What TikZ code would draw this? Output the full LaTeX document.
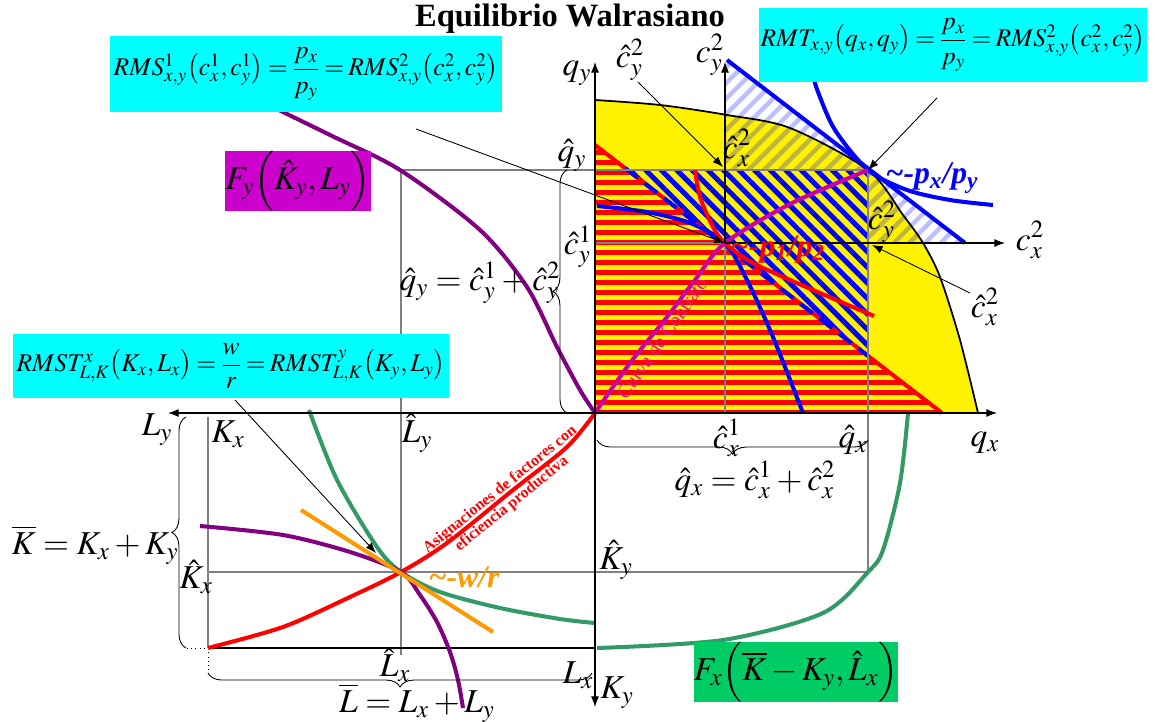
\documentclass[tikz,border=0pt]{standalone}
\usepackage{amsmath}
\usepackage{mathptmx}
\usepackage[no-math]{fontspec}
\setmainfont{Liberation Serif}
\usetikzlibrary{positioning,arrows.meta,patterns.meta,decorations.pathreplacing}
\definecolor{boxcyan}{HTML}{00FFFF}
\definecolor{boxmagenta}{HTML}{CC00CC}
\definecolor{boxgreen}{HTML}{00CC66}
\definecolor{softpurple}{HTML}{800080}
\definecolor{softgreen}{HTML}{339966}
\definecolor{softorange}{HTML}{FF9900}
\definecolor{contract}{HTML}{CC00A0}
\definecolor{contracttext}{HTML}{E0108A}
\definecolor{guidegray}{HTML}{808080}
\newcommand{\tightmath}{\thickmuskip=3mu\relax\medmuskip=2mu\relax}

\begin{document}
\begin{tikzpicture}[x=0.02cm,y=-0.02cm,
  lbl/.style={inner sep=0pt,font=\fontsize{19}{22}\selectfont},
  formula/.style={inner sep=0pt,font=\fontsize{14.5}{17}\selectfont\tightmath},
  guide/.style={guidegray,line width=0.7pt},
  heavy/.style={line width=2.3pt},
  axisarrow/.style={line width=0.6pt,-{Latex[length=6pt,width=4.5pt]}},
  pointer/.style={line width=0.5pt,-{Latex[length=6pt,width=4.5pt]}},
  brc/.style={decorate,decoration={brace,amplitude=8pt},line width=0.5pt},
  slope/.style={inner sep=0pt,font=\fontsize{18}{20}\selectfont\bfseries\itshape}]
\useasboundingbox (0,0) rectangle (1155,722);

\coordinate (O) at (595,413);
\coordinate (E1) at (725,243);
\coordinate (E2) at (868,170);
\coordinate (EK) at (401,572);

% areas
\fill[yellow] (O) -- plot[smooth] coordinates {(595,100) (660,105) (727,115) (790,128) (868,170) (903,215) (923,243) (940,277) (960,340) (978,413)} -- cycle;
\begin{scope}
\clip (725,60) -- (965,243) -- (725,243) -- cycle;
\foreach \k in {0,...,28}
  \draw[blue,line width=0.09cm,draw opacity=0.25] ({535+15.6*\k},243) -- ({725+15.6*\k},53);
\end{scope}
\fill[yellow] (595,170) rectangle (868,413);
\path[pattern={Lines[angle=-45,distance=0.22cm,line width=0.1cm]},pattern color=blue] (595,170) rectangle (868,413);
\fill[yellow] (595,145) -- (942,413) -- (O) -- cycle;
\path[pattern={Lines[angle=0,distance=0.2cm,line width=0.1cm]},pattern color=red] (595,145) -- (942,413) -- (O) -- cycle;
\draw[red,heavy] (595,145) -- (942,413);
\draw[blue,heavy,dash pattern=on 9pt off 5pt] (625,168) -- (868,356);

% guides
\draw[guide] (401,170) -- (E2) -- (868,572) -- (208,572);
\draw[guide] (401,170) -- (401,655);
\draw[guide] (208,417) -- (208,648);
\draw[guide] (595,243) -- (E1) -- (725,413);
\draw[line width=0.6pt] (208,648) -- (595,648);
\draw[dotted,line width=0.4pt] (187,648) -- (208,648) -- (208,673);

\draw[line width=1pt] plot[smooth] coordinates {(595,100) (660,105) (727,115) (790,128) (868,170) (903,215) (923,243) (940,277) (960,340) (978,413)};

% curves
\coordinate (b2top) at (727,60);
\coordinate (b2end) at (965,243);
\draw[blue,heavy] (b2top) -- (b2end);
\draw[blue,heavy] plot[smooth] coordinates {(813,75) (818,92) (835,130) (E2) (907,190) (950,200) (993,205)};
\draw[blue,heavy] plot[smooth] coordinates {(597,206) (647,212) (690,223) (E1) (747,280) (773,337) (803,413)};
\draw[red,heavy] plot[smooth] coordinates {(695,170) (700,197) (713,227) (E1) (753,263) (813,290) (874,316)};
\draw[contract,heavy] plot[smooth] coordinates {(O) (630,363) (667,317) (695,280) (E1) (790,204) (E2)};
\draw[softpurple,heavy] plot[smooth] coordinates {(250,96) (330,135) (400,170) (480,230) (527,287) (557,347) (580,390) (O)};
\draw[red,heavy] plot[smooth] coordinates {(208,648) (283,627) (350,597) (EK) (447,543) (513,490) (567,447) (O)};
\draw[softgreen,heavy] plot[smooth] coordinates {(309,410) (337,480) (377,547) (EK) (440,592) (500,608) (560,619) (595,623)};
\draw[softpurple,heavy] plot[smooth] coordinates {(200,526) (283,535) (350,552) (EK) (420,595) (437,622) (450,652) (458,680) (463,708)};
\coordinate (wrA) at (301,510);
\coordinate (wrB) at (493,632);
\draw[softorange,heavy] (wrA) -- (wrB);
\draw[softgreen,heavy] plot[smooth] coordinates {(908,413) (900,483) (883,550) (868,572) (823,613) (723,640) (597,648)};

% axes
\coordinate (qyend) at (595,62);
\coordinate (qxend) at (997,413);
\coordinate (Lyend) at (168,413);
\coordinate (Kyend) at (595,707);
\coordinate (c2yend) at (725,62);
\coordinate (c2xend) at (1005,243);
\draw[axisarrow] (O) -- (qyend);
\draw[axisarrow] (O) -- (qxend);
\draw[axisarrow] (O) -- (Lyend);
\draw[axisarrow] (O) -- (Kyend);
\draw[axisarrow] (E1) -- (c2yend);
\draw[axisarrow] (E1) -- (c2xend);

% braces
\draw[brc] (567,413) -- (567,170);
\draw[brc] (868,440) -- (597,440);
\draw[brc] (186,648) -- (186,417);
\draw[brc] (592,673) -- (208,673);

% labels
\node[font=\fontsize{18.5}{22}\selectfont\bfseries] (title) at (570,19) {Equilibrio Walrasiano};
\node[lbl] (qy) at (577,73) {$q_y$};
\node[lbl] (cy2top) at (630,60) {$\hat{c}^2_y$};
\node[lbl] (cy2) at (710,55) {$c^2_y$};
\node[lbl] (qyhat) at (572,155) {$\hat{q}_y$};
\node[lbl] (cy1hat) at (578,247) {$\hat{c}^1_y$};
\node[lbl] (qysum) at (480,283) {$\hat{q}_y=\hat{c}^1_y+\hat{c}^2_y$};
\node[lbl] (cx2top) at (737,148) {$\hat{c}^2_x$};
\node[lbl] (cy2right) at (882,222) {$\hat{c}^2_y$};
\node[lbl] (cx2) at (1030,240) {$c^2_x$};
\node[lbl] (cx2right) at (985,307) {$\hat{c}^2_x$};
\node[lbl] (qx) at (985,443) {$q_x$};
\node[lbl] (cx1hat) at (727,438) {$\hat{c}^1_x$};
\node[lbl] (qxhat) at (853,440) {$\hat{q}_x$};
\node[lbl] (qxsum) at (755,480) {$\hat{q}_x=\hat{c}^1_x+\hat{c}^2_x$};
\node[lbl] (Kyhat) at (616,560) {$\hat{K}_y$};
\node[lbl] (Ky) at (617,693) {$K_y$};
\node[lbl] (Kx) at (228,434) {$K_x$};
\node[lbl] (Ly) at (157,430) {$L_y$};
\node[lbl] (Lyhat) at (417,433) {$\hat{L}_y$};
\node[lbl] (Kbar) at (95,545) {$\overline{K}=K_x+K_y$};
\node[lbl] (Kxhat) at (196,577) {$\hat{K}_x$};
\node[lbl] (Lxhat) at (395,665) {$\hat{L}_x$};
\node[lbl] (Lx) at (578,675) {$L_x$};
\node[lbl] (Lbar) at (417,703) {$\overline{L}=L_x+L_y$};
\node[slope,blue] (pxpy) at (932,178) {\textasciitilde-p\textsubscript{x}/p\textsubscript{y}};
\node[slope,red] (p1p2) at (778,249) {\textasciitilde-p\textsubscript{1}/p\textsubscript{2}};
\node[slope,softorange] (wr) at (464,577) {\textasciitilde-w/r};
\node[rotate=55,text=contracttext,inner sep=0pt,font=\fontsize{11}{13}\selectfont] (ccurve) at (662,338) {Curva de Contrato};
\node[rotate=39,text=red,align=center,inner sep=0pt,font=\fontsize{9}{10.5}\selectfont\bfseries] (effic) at (506,497) {Asignaciones de factores con\\eficiencia productiva};

% boxes
\node[formula,fill=boxcyan,minimum width=7.84cm,minimum height=1.54cm] (rms) at (306,74) {$RMS^1_{x,y}\bigl(c^1_x,c^1_y\bigr)=\dfrac{p_x}{p_y}=RMS^2_{x,y}\bigl(c^2_x,c^2_y\bigr)$};
\node[formula,fill=boxcyan,minimum width=7.78cm,minimum height=1.48cm] (rmt) at (953,45) {$RMT_{x,y}\bigl(q_x,q_y\bigr)=\dfrac{p_x}{p_y}=RMS^2_{x,y}\bigl(c^2_x,c^2_y\bigr)$};
\node[formula,fill=boxcyan,minimum width=8.74cm,minimum height=1.28cm] (rmst) at (231,366) {$RMST^x_{L,K}\bigl(K_x,L_x\bigr)=\dfrac{w}{r}=RMST^y_{L,K}\bigl(K_y,L_y\bigr)$};
\node[lbl,fill=boxmagenta,minimum width=2.74cm,minimum height=1cm] (Fy) at (298,181) {$F_y\Bigl(\hat{K}_y,L_y\Bigr)$};
\node[lbl,fill=boxgreen,minimum width=3.86cm,minimum height=1cm] (Fx) at (796,672) {$F_x\Bigl(\overline{K}-K_y,\hat{L}_x\Bigr)$};

% pointers
\coordinate (rmsA) at (416,129);
\coordinate (rmtA) at (937,98);
\coordinate (rmstA) at (235,400);
\coordinate (rmstB) at (376,553);
\coordinate (cy2A) at (638,82);
\coordinate (cy2B) at (723,167);
\coordinate (cx2A) at (970,293);
\coordinate (cx2B) at (872,245);
\draw[pointer] (rmsA) -- (E1);
\draw[pointer] (rmtA) -- (E2);
\draw[pointer] (rmstA) -- (rmstB);
\draw[pointer] (cy2A) -- (cy2B);
\draw[pointer] (cx2A) -- (cx2B);
\end{tikzpicture}
\end{document}
